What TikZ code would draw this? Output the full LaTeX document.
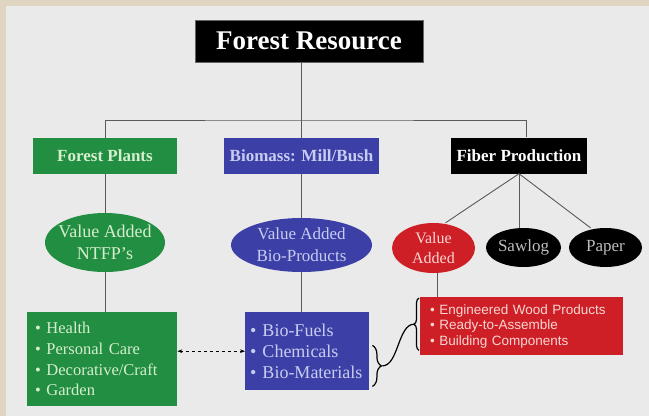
\documentclass[tikz,border=0pt]{standalone}
\usepackage{fontspec}
\setmainfont{Liberation Serif}
\newfontfamily\arialfont{Liberation Sans}
\usetikzlibrary{shapes.geometric, arrows.meta, positioning, calc, decorations.pathreplacing}
\definecolor{frameTan}{RGB}{224, 213, 193}
\definecolor{panelGray}{RGB}{234, 234, 234}
\definecolor{forestGreen}{RGB}{33, 142, 66}
\definecolor{biomassBlue}{RGB}{60, 64, 166}
\definecolor{fiberRed}{RGB}{206, 30, 38}
\definecolor{lineGray}{RGB}{90, 90, 90}
\definecolor{paleGreen}{RGB}{214, 238, 206}
\definecolor{paleBlue}{RGB}{200, 204, 240}
\definecolor{paleRed}{RGB}{248, 214, 210}
\definecolor{paleGray}{RGB}{190, 190, 190}

\begin{document}
\begin{tikzpicture}[
    x=1pt, y=-1pt,
    headbox/.style={
        rectangle,
        fill=black,
        draw=black!60,
        text=white,
        inner sep=0pt,
        font=\fontsize{27}{30}\selectfont\bfseries
    },
    catbox/.style={
        rectangle,
        inner sep=0pt,
        minimum height=36pt,
        font=\fontsize{17}{20}\selectfont\bfseries
    },
    valueoval/.style={
        ellipse,
        inner xsep=-8pt,
        inner ysep=-2pt,
        align=center,
        font=\fontsize{17}{22}\selectfont
    },
    listbox/.style={
        rectangle,
        anchor=north west,
        align=left,
        inner ysep=0pt
    },
    link/.style={
        draw=lineGray,
        line width=0.9pt
    },
    curlybrace/.style={
        decorate,
        decoration={brace, amplitude=#1},
        draw=black,
        line width=1.2pt
    },
    curlybrace/.default=8pt
]

% Frame and panel
\useasboundingbox (0,0) rectangle (649,416);
\fill[panelGray] (0,0) rectangle (649,416);
\fill[frameTan] (0,0) rectangle (649,6);
\fill[frameTan] (0,0) rectangle (6,416);

% Top node and categories
\node[headbox, minimum width=228pt, minimum height=42pt] (root) at (309,41) {Forest Resource};
\node[catbox, fill=forestGreen, text=paleGreen, minimum width=144pt] (plants) at (105,156) {Forest Plants};
\node[catbox, fill=biomassBlue, text=paleBlue, minimum width=155pt] (bio) at (301.5,156) {Biomass: Mill/Bush};
\node[catbox, fill=black, text=white, minimum width=136pt] (fiber) at (519,155.5) {Fiber Production};

% Value added ovals
\node[valueoval, fill=forestGreen, text=paleGreen, minimum width=120pt, minimum height=59pt,
      font=\fontsize{18}{22}\selectfont] (valG) at (105,242.5) {Value Added\\NTFP's};
\node[valueoval, fill=biomassBlue, text=paleBlue, minimum width=141pt, minimum height=54pt] (valB) at (301.5,245) {Value Added\\Bio-Products};
\node[valueoval, fill=fiberRed, text=paleRed, minimum width=83pt, minimum height=50pt,
      font=\fontsize{16}{20}\selectfont] (valR) at (433.5,248) {Value\\Added};
\node[valueoval, fill=black, text=paleGray, minimum width=75pt, minimum height=39pt] (sawlog) at (523.5,247.5) {Sawlog};
\node[valueoval, fill=black, text=paleGray, minimum width=73pt, minimum height=39pt] (paper) at (605.5,247.5) {Paper};

% Product lists
\node[listbox, fill=forestGreen, text=paleGreen, inner xsep=8pt, text width=134pt, minimum height=94pt,
      font=\fontsize{16.5}{20.7}\selectfont] (gList) at (27,312)
      {\textbullet\ Health\\\textbullet\ Personal Care\\\textbullet\ Decorative/Craft\\\textbullet\ Garden};
\node[listbox, fill=biomassBlue, text=paleBlue, inner xsep=5pt, text width=114pt, minimum height=78pt,
      font=\fontsize{18}{21}\selectfont] (bList) at (245,312)
      {\textbullet\ Bio-Fuels\\\textbullet\ Chemicals\\\textbullet\ Bio-Materials};
\node[listbox, fill=fiberRed, text=paleRed, inner xsep=10pt, text width=183pt, minimum height=58pt,
      font=\arialfont\fontsize{13.5}{15.5}\selectfont] (rList) at (420,297)
      {\textbullet\ Engineered Wood Products\\\textbullet\ Ready-to-Assemble\\\textbullet\ Building Components};

% Tree lines
\coordinate (bus) at (303,120);
\draw[link] (bio.north |- root.south) -- (bio.north);
\draw[link] (plants.north) |- (bus) -| ([xshift=7pt]fiber.north);
\draw[link] (plants) -- (valG);
\draw[link] (valG.south) -- (valG.south |- gList.north);
\draw[link] (bio) -- (valB);
\draw[link] (valB.south) -- (valB.south |- bList.north);
\draw[link] (fiber.south) -- ([xshift=12pt]valR.north);
\draw[link] (fiber.south) -- (fiber.south |- sawlog.north);
\draw[link] (fiber.south) -- ([xshift=-15pt]paper.north);
\draw[link] ([xshift=4pt]valR.south) -- ([xshift=4pt]valR.south |- rList.north);

% Exchange between lists
\draw[dashed, line width=0.8pt, {Stealth[length=5pt]}-{Stealth[length=5pt]}] (gList.east |- bList.west) -- (bList.west);

% Braces
\draw[curlybrace=9pt] ([xshift=3pt,yshift=45pt]bList.south east) -- node[coordinate, midway, xshift=10pt] (tipB) {} ([xshift=3pt,yshift=4pt]bList.south east);
\draw[curlybrace=5pt] ([xshift=-1pt,yshift=5pt]rList.south west) -- node[coordinate, midway, xshift=-5pt] (tipR) {} ([xshift=-1pt,yshift=-1pt]rList.north west);
\draw[line width=1.2pt] (tipB) .. controls +(16,0) and +(-16,0) .. (tipR);

\end{tikzpicture}
\end{document}
